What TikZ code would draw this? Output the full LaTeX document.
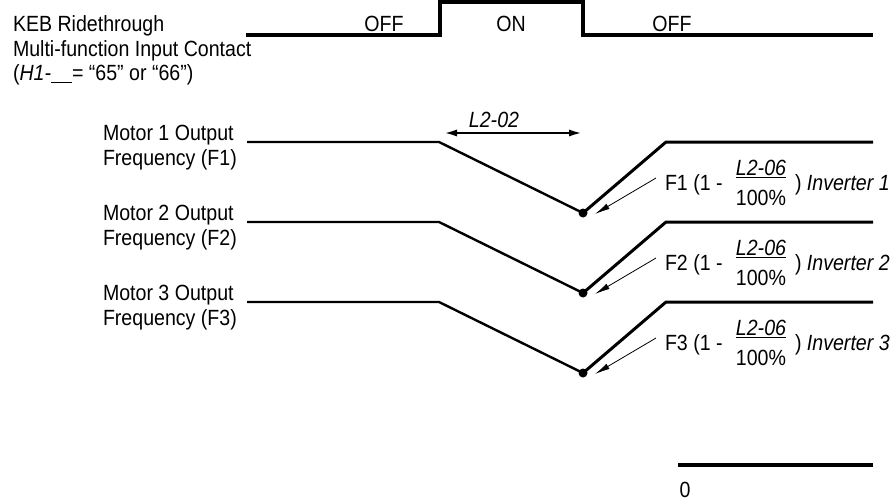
\documentclass[tikz,border=0pt]{standalone}
\usepackage{fontspec}
\setmainfont{Liberation Sans}[FakeStretch=0.89]
\usetikzlibrary{arrows.meta}
\begin{document}
\begin{tikzpicture}[x=1pt,y=-1pt,
  txt/.style={font=\fontsize{22}{26}\selectfont, inner sep=0pt, outer sep=0pt},
  sig/.style={line width=3.5pt, line join=miter},
  freq/.style={line width=2.4pt, line join=miter},
  rise/.style={line width=3pt, line join=miter},
  dotn/.style={circle, fill=black, inner sep=0pt, minimum size=9pt},
  dimarrow/.style={line width=2.6pt, {Latex[length=14pt,width=7pt]}-{Latex[length=14pt,width=7pt]}},
  callout/.style={line width=0.8pt, -{Latex[length=15pt,width=6pt]}},
]
\useasboundingbox (0,0) rectangle (893,500);

% header text
\node[txt, anchor=base west] (keb1) at (13,32) {KEB Ridethrough};
\node[txt, anchor=base west] (keb2) at (13,57) {Multi-function Input Contact};
\node[txt, anchor=base west] (keb3) at (13,81) {(\textit{H1-}\rule[-2pt]{21pt}{1.3pt}= “65” or “66”)};

% input contact signal
\coordinate (s0) at (246,35);
\coordinate (s1) at (440,35);
\coordinate (s2) at (440,2);
\coordinate (s3) at (583,2);
\coordinate (s4) at (583,35);
\coordinate (s5) at (873,35);
\draw[sig] (s0) -- (s1) -- (s2) -- (s3) -- (s4) -- (s5);
\node[txt, anchor=base] (off1) at (384,32) {OFF};
\node[txt, anchor=base] (on) at (511,32) {ON};
\node[txt, anchor=base] (off2) at (672,32) {OFF};

% L2-02 dimension
\node[txt, anchor=base] (l202) at (494,128) {\textit{L2-02}};
\coordinate (la) at (443,133);
\coordinate (lb) at (583,133);
\draw[dimarrow] (la) -- (lb);

% motors
\foreach \i/\dy in {1/0,2/80,3/160}{
  \node[txt, anchor=base west] (ma\i) at (103,140+\dy) {Motor \i\ Output};
  \node[txt, anchor=base west] (mb\i) at (103,165+\dy) {Frequency (F\i)};
  \coordinate (p\i0) at (247,142+\dy);
  \coordinate (p\i1) at (439,142+\dy);
  \node[dotn] (d\i) at (583,213+\dy) {};
  \coordinate (p\i3) at (666,142+\dy);
  \coordinate (p\i4) at (873,142+\dy);
  \draw[freq] (p\i0) -- (p\i1) -- (d\i.center);
  \draw[rise] (d\i.center) -- (p\i3) -- (p\i4);
  \node[txt, anchor=base west] (fa\i) at (665,190+\dy) {F\i\ (1 -};
  \node[txt, anchor=base] (n\i) at (761,175+\dy) {\textit{L2-06}};
  \draw[line width=1.2pt] ([yshift=-2.5pt]n\i.base west) -- ([yshift=-2.5pt]n\i.base east);
  \node[txt, anchor=base] (q\i) at (761,205+\dy) {100\%};
  \node[txt, anchor=base west] (g\i) at (795,190+\dy) {) \textit{Inverter \i}};
  \coordinate (ct\i) at (656,178+\dy);
  \coordinate (ch\i) at (595,214+\dy);
  \draw[callout] (ct\i) -- (ch\i);
}

% zero level
\coordinate (z0) at (678,465);
\coordinate (z1) at (873,465);
\draw[sig] (z0) -- (z1);
\node[txt, anchor=base] (zero) at (685,497) {0};
\end{tikzpicture}
\end{document}
